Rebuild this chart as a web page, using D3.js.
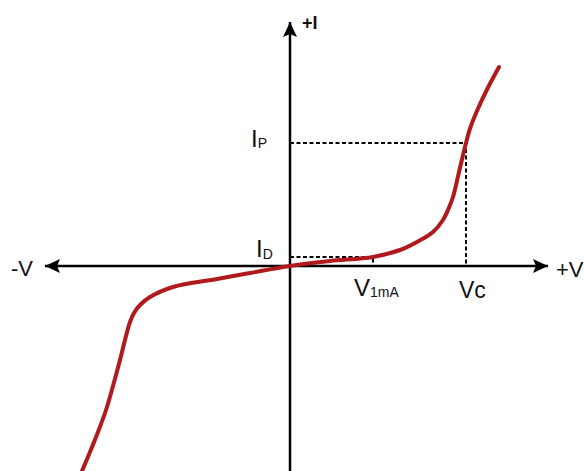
<!DOCTYPE html>
<meta charset="utf-8">
<script src="https://cdn.jsdelivr.net/npm/d3@7"></script>
<style>
body { margin: 0; background: #fff; }
text { font-family: "Liberation Sans", Arial, sans-serif; fill: #111; }
.axis { stroke: #000; stroke-width: 2.5px; fill: none; }
.guide { stroke: #000; stroke-width: 2px; stroke-dasharray: 4,2.5; fill: none; }
.curve { stroke: #b01a1c; stroke-width: 4px; fill: none; stroke-linecap: round; }
</style>
<body>
<script>

// V-I curve (arbitrary units, origin at crossing)
var curveV = [-8.32, -8.0, -7.68, -7.36, -7.08, -6.8, -6.56, -6.4, -6.24, -6.0, -5.6, -4.68, -2.92, -1.6, 0,
              1.6, 3.32, 4.4, 5.08, 5.72, 6.12, 6.32, 6.52, 6.76, 7.04, 7.2, 7.5, 7.9, 8.36];
var curveI = [-8.2, -7.44, -6.64, -5.76, -4.8, -3.76, -2.8, -2.24, -1.88, -1.56, -1.24, -0.84, -0.52, -0.28, 0,
              0.2, 0.36, 0.64, 0.96, 1.36, 1.84, 2.24, 2.76, 3.76, 4.92, 5.5, 6.25, 7.1, 7.96];

// reference levels
var vc = 7.04, ip = 4.92;
var v1mA = 3.32, id = 0.36;

var width = 584, height = 471;

var x = d3.scaleLinear().domain([-10, 10]).range([40, 540]);
var y = d3.scaleLinear().domain([-8, 8]).range([466, 66]);

var svg = d3.select("body").append("svg")
    .attr("width", width)
    .attr("height", height);

var defs = svg.append("defs");
defs.append("marker")
    .attr("id", "arrow")
    .attr("viewBox", "0 -7 15 14")
    .attr("refX", 15).attr("refY", 0)
    .attr("markerWidth", 15).attr("markerHeight", 14)
    .attr("markerUnits", "userSpaceOnUse")
    .attr("orient", "auto-start-reverse")
  .append("path")
    .attr("d", "M0,-7L15,0L0,7L3,0Z")
    .attr("fill", "#000");

// axes
svg.append("line").attr("class", "axis")
    .attr("x1", 45).attr("x2", 548)
    .attr("y1", y(0)).attr("y2", y(0))
    .attr("marker-start", "url(#arrow)")
    .attr("marker-end", "url(#arrow)");

svg.append("line").attr("class", "axis")
    .attr("x1", x(0)).attr("x2", x(0))
    .attr("y1", 471).attr("y2", 22)
    .attr("marker-end", "url(#arrow)");

// dashed guides
svg.append("path").attr("class", "guide")
    .attr("d", "M" + x(0) + "," + y(ip) + "H" + x(vc) + "V" + y(0));
svg.append("path").attr("class", "guide")
    .attr("d", "M" + x(0) + "," + y(id) + "H" + x(v1mA) + "V" + y(0));

// curve
var line = d3.line()
    .x(function(d) { return x(d[0]); })
    .y(function(d) { return y(d[1]); })
    .curve(d3.curveCatmullRom.alpha(0.5));

svg.append("path").attr("class", "curve")
    .attr("d", line(d3.zip(curveV, curveI)));

// labels
svg.append("text").attr("x", 302).attr("y", 29)
    .style("font-size", "18px").style("font-weight", "bold").text("+I");
svg.append("text").attr("x", 11).attr("y", 276)
    .style("font-size", "22px").text("-V");
svg.append("text").attr("x", 556).attr("y", 277)
    .style("font-size", "22px").text("+V");

function subLabel(px, py, main, sub, dx, dy) {
  var t = svg.append("text").attr("x", px).attr("y", py).style("font-size", "24px");
  t.append("tspan").text(main);
  t.append("tspan").attr("dx", dx).attr("dy", dy).style("font-size", "14px").text(sub);
}

subLabel(251, 147, "I", "P", 0, 1);
subLabel(256, 257, "I", "D", 0, 2);
subLabel(354, 296, "V", "1mA", 0, 1);

svg.append("text").attr("x", 459).attr("y", 298)
    .style("font-size", "23px").text("Vc");

</script>
</body>
